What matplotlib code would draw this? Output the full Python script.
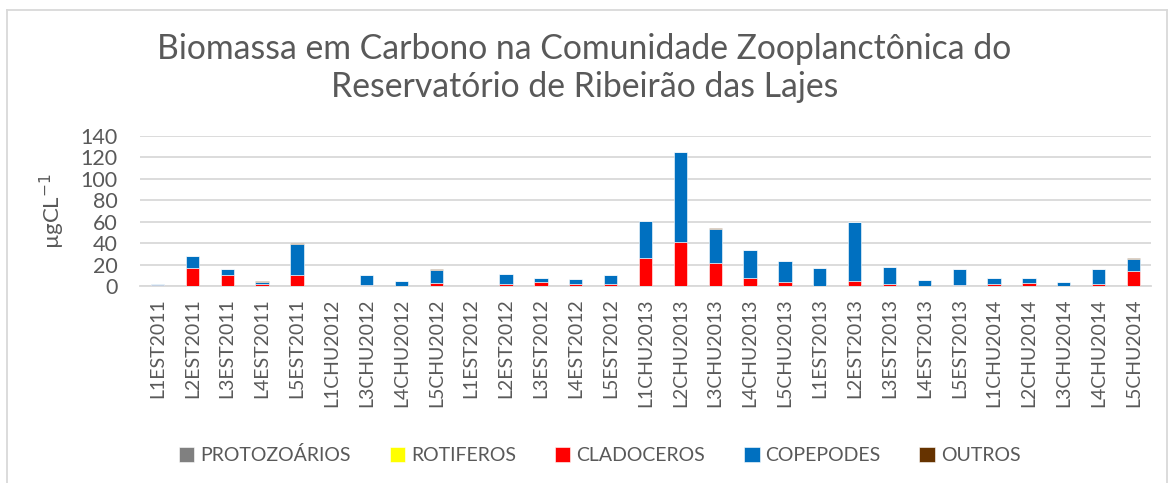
import numpy as np
import matplotlib
matplotlib.use('Agg')
import matplotlib.pyplot as plt
from matplotlib.lines import Line2D

# ── Dados (µgC/L) ────────────────────────────────────────────
amostras = [
    "L1EST2011", "L2EST2011", "L3EST2011", "L4EST2011", "L5EST2011",
    "L1CHU2012", "L3CHU2012", "L4CHU2012", "L5CHU2012",
    "L1EST2012", "L2EST2012", "L3EST2012", "L4EST2012", "L5EST2012",
    "L1CHU2013", "L2CHU2013", "L3CHU2013", "L4CHU2013", "L5CHU2013",
    "L1EST2013", "L2EST2013", "L3EST2013", "L4EST2013", "L5EST2013",
    "L1CHU2014", "L2CHU2014", "L3CHU2014", "L4CHU2014", "L5CHU2014",
]
protozoarios = [0.3, 0, 0, 0, 0, 0, 0, 0, 0, 0, 0, 0, 0, 0, 0,
                0, 0, 0, 0, 0, 0, 0, 0, 0, 0, 0, 0, 0, 0]
rotiferos    = [0, 0, 0, 0, 0, 0, 0, 0, 0, 0, 0, 0, 0, 0, 0,
                0, 0, 0, 0, 0, 0, 0, 0, 0, 0, 0, 0, 0, 0]
cladoceros   = [0.2, 16.6, 10.6, 1.6, 10.0, 0, 1.3, 0.3, 2.8,
                0, 1.5, 3.4, 1.9, 2.2,
                25.7, 40.7, 21.3, 7.2, 3.8,
                0, 4.4, 1.9, 0, 1.3,
                1.9, 3.1, 0.3, 1.9, 14.1]
copepodes    = [1.0, 11.2, 5.2, 2.6, 29.4, 0, 8.9, 4.0, 12.4,
                0, 9.4, 4.0, 4.3, 8.3,
                35.2, 84.1, 32.2, 26.2, 19.2,
                16.8, 55.0, 15.5, 5.5, 14.6,
                5.8, 4.0, 3.5, 13.7, 11.5]
outros       = [0.1, 0.5, 0.2, 0.2, 0.5, 0, 0.1, 0.1, 0.5,
                0, 0.1, 0.1, 0.1, 0.1,
                0.2, 0.3, 0.2, 0.2, 0.6,
                0.1, 0.1, 0.5, 0.5, 0.1,
                0.1, 0.4, 0.1, 0.4, 0.2]

SERIES = [
    ("PROTOZOÁRIOS", protozoarios, "#808080"),
    ("ROTIFEROS",    rotiferos,    "#FFFF00"),
    ("CLADOCEROS",   cladoceros,   "#FF0000"),
    ("COPEPODES",    copepodes,    "#0070C0"),
    ("OUTROS",       outros,       "#663300"),
]

TEXT_COLOR = "#595959"
GRID_COLOR = "#D9D9D9"
plt.rcParams['font.family'] = ['Lato', 'DejaVu Sans']

fig = plt.figure(figsize=(11.69, 4.83), dpi=100)
ax = fig.add_axes([140 / 1169, 1 - 286 / 483, 1011 / 1169, 150 / 483])

x = np.arange(len(amostras))
bottom = np.zeros(len(amostras))
for nome, vals, cor in SERIES:
    vals = np.array(vals, dtype=float)
    ax.bar(x, vals, width=0.38, bottom=bottom, color=cor,
           edgecolor="white", linewidth=0.4, label=nome, zorder=3)
    bottom += vals

ax.set_xlim(-0.5, len(amostras) - 0.5)
ax.set_ylim(0, 140)
ax.set_yticks(np.arange(0, 141, 20))
ax.set_xticks(x)
ax.set_xticklabels(amostras, rotation=90, fontsize=14, color=TEXT_COLOR)
ax.tick_params(axis='y', labelsize=15.5, colors=TEXT_COLOR, length=0, pad=16)
ax.tick_params(axis='x', length=0, pad=9)
ax.yaxis.grid(True, color=GRID_COLOR, linewidth=1.3, zorder=0)
for s in ["top", "right", "left"]:
    ax.spines[s].set_visible(False)
ax.spines["bottom"].set_color(GRID_COLOR)
ax.spines["bottom"].set_linewidth(1.3)

ax.set_ylabel("µgCL$^{-1}$", fontsize=16, color=TEXT_COLOR, labelpad=10)

fig.text(0.5, 1 - 68 / 483,
         "Biomassa em Carbono na Comunidade Zooplanctônica do\n"
         "Reservatório de Ribeirão das Lajes",
         ha="center", va="center", fontsize=24.3, color=TEXT_COLOR,
         linespacing=1.22)

# moldura do gráfico
for xs, ys in [([7, 1167], [10, 10]), ([7, 7], [10, 483]), ([1167, 1167], [10, 483])]:
    fig.add_artist(Line2D(np.array(xs) / 1169, 1 - np.array(ys) / 483,
                          color=GRID_COLOR, linewidth=1.3))

fig.legend(loc="center", bbox_to_anchor=(0.513, 1 - 455 / 483), ncol=5,
           frameon=False, fontsize=14, handlelength=0.8, handleheight=0.8,
           handletextpad=0.3, columnspacing=2.0, labelcolor=TEXT_COLOR)

fig.savefig("out.png", dpi=100)
